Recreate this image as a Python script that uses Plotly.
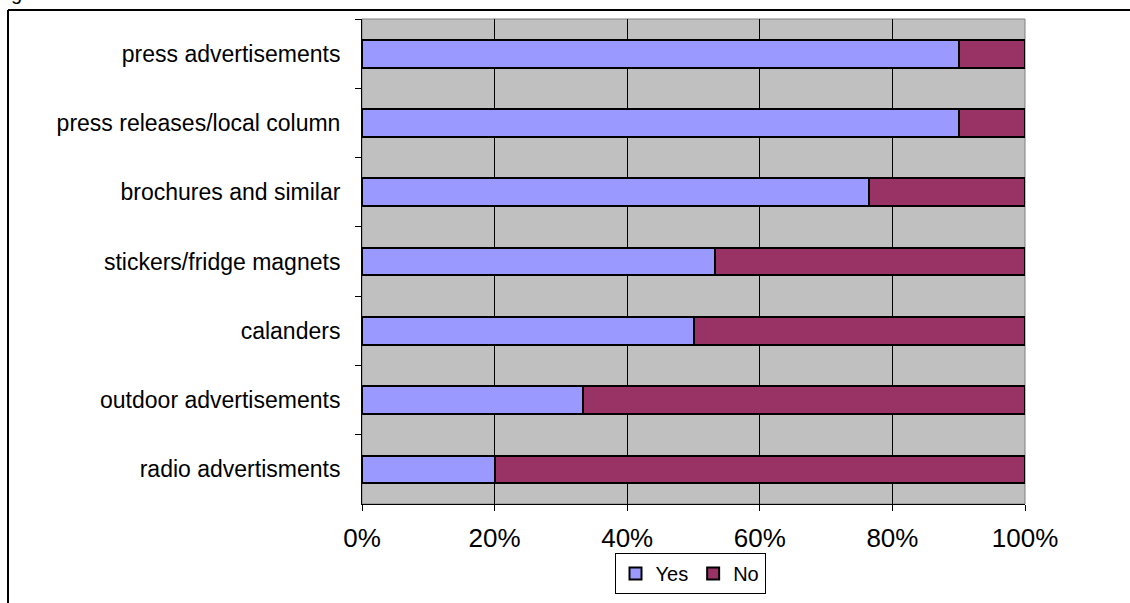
import plotly.graph_objects as go

categories = ["press advertisements", "press releases/local column", "brochures and similar",
              "stickers/fridge magnets", "calanders", "outdoor advertisements", "radio advertisments"]
yes_vals = [90.0, 90.0, 76.5, 53.3, 50.0, 33.3, 20.0]
no_vals = [10.0, 10.0, 23.5, 46.7, 50.0, 66.7, 80.0]
x_ticks = [0, 20, 40, 60, 80, 100]
x_tick_labels = ["0%", "20%", "40%", "60%", "80%", "100%"]

W, H = 1130, 603
L, R, T, B = 362, 105, 19, 99
pw, ph = W - L - R, H - T - B

def px(x):
    return (x - L) / pw

def py(y):
    return (H - B - y) / ph

fig = go.Figure()
fig.add_trace(go.Bar(y=categories, x=yes_vals, orientation="h", name="Yes",
                     marker=dict(color="#9999FF", line=dict(color="black", width=2)), width=0.4))
fig.add_trace(go.Bar(y=categories, x=no_vals, orientation="h", name="No",
                     marker=dict(color="#993366", line=dict(color="black", width=2)), width=0.4))

fig.update_layout(
    width=W, height=H,
    margin=dict(l=L, r=R, t=T, b=B, autoexpand=False),
    barmode="stack",
    bargap=0.6,
    plot_bgcolor="#C0C0C0",
    paper_bgcolor="white",
    font=dict(family="Liberation Sans, Arial, sans-serif", color="black"),
    xaxis=dict(range=[0, 100], tickvals=x_ticks, ticktext=x_tick_labels,
               showgrid=True, gridcolor="#000000", gridwidth=1,
               ticks="outside", ticklen=6, tickcolor="black",
               showline=True, linecolor="black", linewidth=1,
               tickfont=dict(size=26), zeroline=False, ticklabelstandoff=5),
    yaxis=dict(categoryorder="array", categoryarray=categories, autorange="reversed",
               tickson="boundaries", ticks="outside", ticklen=6, tickcolor="black",
               showgrid=False, showline=True, linecolor="black", linewidth=1,
               tickfont=dict(size=23), ticklabelstandoff=16),
    legend=dict(orientation="h", x=px(690), y=py(553), xanchor="center", yanchor="top",
                bordercolor="black", borderwidth=1, font=dict(size=20), traceorder="normal",
                bgcolor="white", itemwidth=30, tracegroupgap=0),
    shapes=[
        dict(type="rect", xref="paper", yref="paper", x0=0, x1=1, y0=0, y1=1,
             line=dict(color="#808080", width=1), layer="below"),
        dict(type="line", xref="paper", yref="paper", x0=px(8), x1=px(1200), y0=py(10), y1=py(10),
             line=dict(color="black", width=2)),
        dict(type="line", xref="paper", yref="paper", x0=px(8), x1=px(8), y0=py(10), y1=py(700),
             line=dict(color="black", width=2)),
    ],
    annotations=[
        dict(text="g", xref="paper", yref="paper", x=px(9), y=py(6), xanchor="left", yanchor="bottom",
             showarrow=False, font=dict(size=20)),
    ],
)

fig.write_html("out.html")
